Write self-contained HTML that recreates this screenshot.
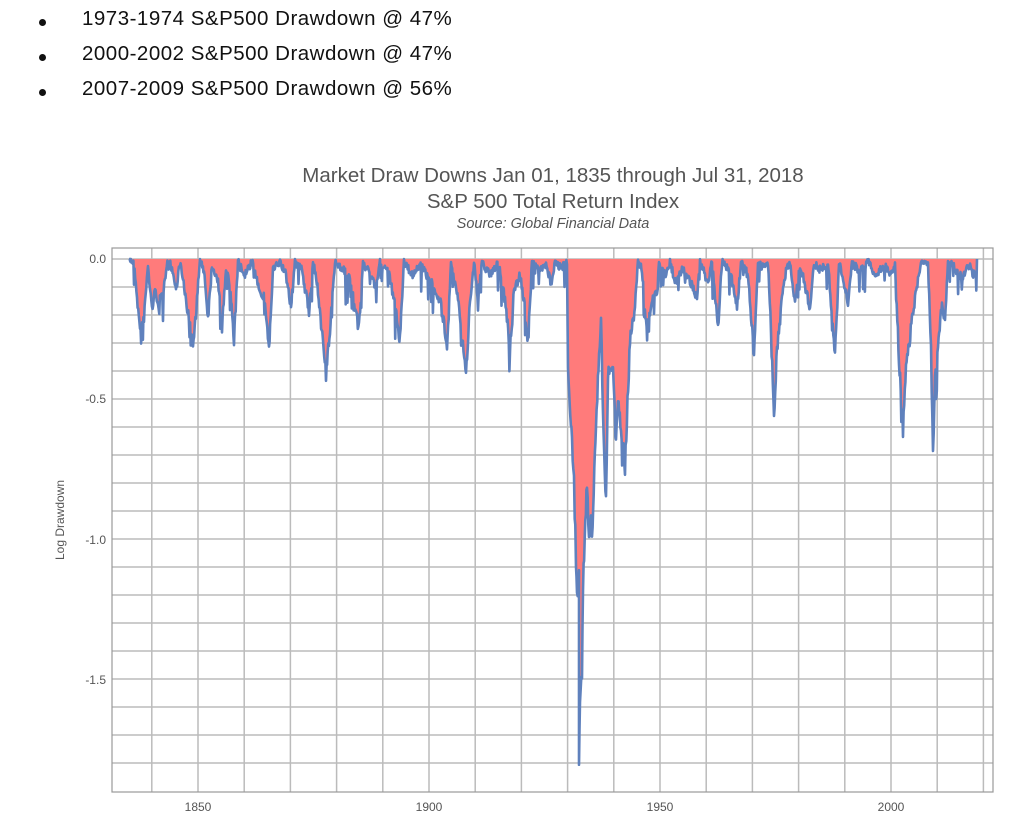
<!DOCTYPE html>
<html><head><meta charset="utf-8"><style>
body{margin:0;background:#fff;width:1024px;height:826px;overflow:hidden;font-family:"Liberation Sans",sans-serif}
.b{position:absolute;left:82px;font-size:20.5px;letter-spacing:0.5px;color:#111}
.d{position:absolute;left:39px;width:7px;height:7px;border-radius:50%;background:#111}
</style></head><body>
<div class="d" style="top:19px"></div><div class="b" style="top:7px">1973-1974 S&amp;P500 Drawdown @ 47%</div>
<div class="d" style="top:54px"></div><div class="b" style="top:42px">2000-2002 S&amp;P500 Drawdown @ 47%</div>
<div class="d" style="top:89px"></div><div class="b" style="top:77px">2007-2009 S&amp;P500 Drawdown @ 56%</div>
<svg id="s" width="1024" height="826" style="position:absolute;left:0;top:0" font-family="Liberation Sans, sans-serif">
<text x="553" y="182" text-anchor="middle" font-size="20.5" fill="#555">Market Draw Downs Jan 01, 1835 through Jul 31, 2018</text>
<text x="553" y="208" text-anchor="middle" font-size="20.5" fill="#555">S&amp;P 500 Total Return Index</text>
<text x="553" y="228" text-anchor="middle" font-size="14.5" font-style="italic" fill="#555">Source: Global Financial Data</text>
<g id="grid"></g>
<path id="fill" fill="#ff7b7b" stroke="none"/>
<path id="line" fill="none" stroke="#5f81bd" stroke-width="2.6" stroke-linejoin="round"/>
<rect x="112" y="248" width="881" height="544" fill="none" stroke="#999" stroke-width="1.2"/>
<g font-size="12" fill="#555" text-anchor="end">
<text x="106" y="263">0.0</text><text x="106" y="403">-0.5</text><text x="106" y="544">-1.0</text><text x="106" y="684">-1.5</text>
</g>
<g font-size="12" fill="#555" text-anchor="middle">
<text x="198" y="811">1850</text><text x="429" y="811">1900</text><text x="660" y="811">1950</text><text x="891" y="811">2000</text>
</g>
<text transform="translate(64,520) rotate(-90)" text-anchor="middle" font-size="12" fill="#555">Log Drawdown</text>
</svg>
<script>
var g=document.getElementById('grid'),h='';
for(var yr=1840;yr<=2020;yr+=10){var x=198+(yr-1850)*4.62;h+='<line x1="'+x+'" y1="248" x2="'+x+'" y2="792" stroke="#bbb" stroke-width="1.5"/>';}
for(var i=0;i<=18;i++){var y=259+i*28;h+='<line x1="112" y1="'+y+'" x2="993" y2="'+y+'" stroke="#bbb" stroke-width="1.5"/>';}
g.innerHTML=h;
var k=[[129,259],[134,262],[140,331],[144,317],[148,265],[150,290],[152,308],[155,292],[158,300],[163,295],[168,260],[172,268],[176,290],[180,262],[186,300],[193,347],[197,300],[200,259],[204,270],[208,317],[212,265],[218,280],[222,330],[226,268],[230,285],[234,340],[238,262],[245,275],[252,262],[260,290],[265,300],[269,350],[273,270],[280,262],[286,275],[291,307],[295,262],[302,270],[309,313],[313,262],[318,290],[326,376],[330,330],[335,262],[342,268],[350,280],[359,328],[363,265],[370,270],[375,290],[380,262],[388,270],[394,300],[400,340],[404,262],[412,275],[420,265],[430,280],[440,300],[447,343],[451,262],[458,300],[466,376],[470,300],[474,262],[478,300],[482,262],[490,275],[498,262],[505,300],[510,350],[514,290],[520,275],[524,300],[528,343],[532,262],[540,270],[546,266],[551,283],[555,262],[562,268],[567,262],[568,367],[572,440],[574,480],[576,553],[577,600],[579,573],[579,767],[580,700],[582,673],[583,583],[587,480],[589,540],[591,513],[592,542],[596,420],[601,317],[603,413],[606,503],[608,373],[613,367],[616,447],[618,400],[621,430],[625,467],[630,340],[635,307],[638,260],[642,270],[646,323],[650,317],[654,290],[657,297],[659,262],[665,275],[670,262],[676,285],[682,268],[690,280],[697,300],[700,262],[708,283],[712,262],[718,328],[722,262],[730,270],[737,307],[741,262],[748,275],[754,355],[758,262],[764,268],[768,262],[771,330],[774,415],[777,350],[782,300],[786,270],[790,262],[795,302],[800,265],[805,285],[810,310],[814,262],[820,270],[828,262],[835,357],[839,262],[848,303],[852,262],[860,272],[868,262],[876,275],[884,266],[892,275],[895,262],[899,360],[903,425],[906,370],[912,320],[918,280],[922,262],[928,262],[931,350],[933,458],[935,380],[938,350],[942,300],[945,323],[948,262],[955,268],[963,280],[967,262],[975,277],[977,259]];
var s=7;function r(){s=(s*16807)%2147483647;return s/2147483647;}
var pts=[];
for(var i=0;i<k.length-1;i++){var a=k[i],b=k[i+1],n=Math.max(1,Math.round((b[0]-a[0])/0.6));
for(var j=0;j<n;j++){var t=j/n,x=a[0]+(b[0]-a[0])*t,y=a[1]+(b[1]-a[1])*t;var d=y-259;y+=(r()-0.5)*Math.min(16,8+d*0.06);if(r()<0.06)y+=6+r()*22;if(y<259)y=259;pts.push([x,y]);}}
pts.push(k[k.length-1]);
var L='M'+pts.map(function(p){return p[0].toFixed(1)+','+p[1].toFixed(1)}).join('L');
document.getElementById('line').setAttribute('d',L);
document.getElementById('fill').setAttribute('d',L+'L977,259L129,259Z');
</script>
</body></html>
